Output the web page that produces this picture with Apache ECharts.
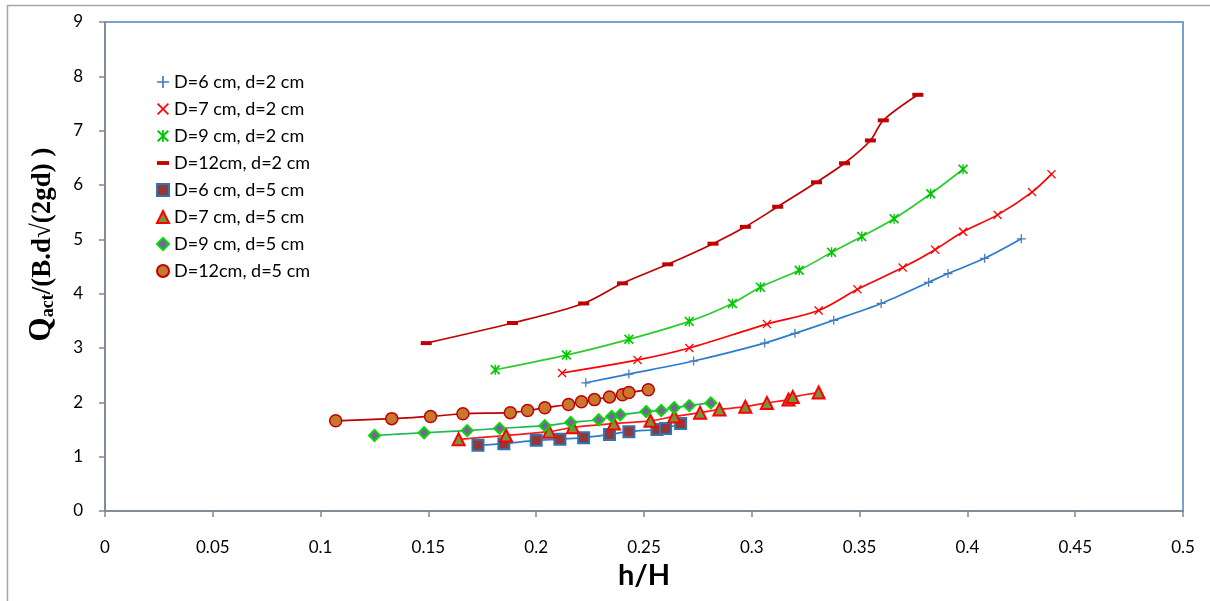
<!DOCTYPE html>
<html>
<head>
<meta charset="utf-8">
<script src="https://cdn.jsdelivr.net/npm/echarts@6/dist/echarts.min.js"></script>
<style>
  html, body { margin: 0; padding: 0; background: #fff; }
  #chart { width: 1210px; height: 601px; }
</style>
</head>
<body>
<div id="chart"></div>
<script>
// h/H (x) and Qact/(B.d sqrt(2gd)) (y), one pair of arrays per test
let hH_D6_d2 = [0.223, 0.243, 0.273, 0.306, 0.320, 0.338, 0.360, 0.382, 0.391, 0.408, 0.425];
let q_D6_d2 = [2.36, 2.52, 2.76, 3.09, 3.27, 3.51, 3.82, 4.21, 4.37, 4.65, 5.01];

let hH_D7_d2 = [0.212, 0.247, 0.271, 0.307, 0.331, 0.349, 0.370, 0.385, 0.398, 0.414, 0.430, 0.439];
let q_D7_d2 = [2.54, 2.78, 3.00, 3.44, 3.69, 4.08, 4.48, 4.81, 5.14, 5.45, 5.87, 6.20];

let hH_D9_d2 = [0.181, 0.214, 0.243, 0.271, 0.291, 0.304, 0.322, 0.337, 0.351, 0.366, 0.383, 0.398];
let q_D9_d2 = [2.60, 2.87, 3.16, 3.49, 3.82, 4.12, 4.43, 4.76, 5.05, 5.38, 5.84, 6.29];

let hH_D12_d2 = [0.149, 0.189, 0.222, 0.240, 0.261, 0.282, 0.297, 0.312, 0.330, 0.343, 0.355, 0.361, 0.377];
let q_D12_d2 = [3.09, 3.46, 3.82, 4.19, 4.54, 4.92, 5.23, 5.60, 6.05, 6.40, 6.82, 7.19, 7.66];

let hH_D6_d5 = [0.173, 0.185, 0.200, 0.211, 0.222, 0.234, 0.243, 0.256, 0.260, 0.267];
let q_D6_d5 = [1.21, 1.24, 1.30, 1.32, 1.35, 1.41, 1.46, 1.50, 1.52, 1.61];

let hH_D7_d5 = [0.164, 0.186, 0.206, 0.217, 0.236, 0.253, 0.264, 0.276, 0.285, 0.297, 0.307, 0.317, 0.319, 0.331];
let q_D7_d5 = [1.32, 1.39, 1.46, 1.54, 1.61, 1.66, 1.74, 1.81, 1.87, 1.92, 1.99, 2.05, 2.10, 2.18];

let hH_D9_d5 = [0.125, 0.148, 0.168, 0.183, 0.204, 0.216, 0.229, 0.235, 0.239, 0.251, 0.258, 0.264, 0.271, 0.281];
let q_D9_d5 = [1.39, 1.44, 1.48, 1.52, 1.57, 1.63, 1.68, 1.74, 1.77, 1.83, 1.85, 1.90, 1.94, 1.99];

let hH_D12_d5 = [0.107, 0.133, 0.151, 0.166, 0.188, 0.196, 0.204, 0.215, 0.221, 0.227, 0.234, 0.240, 0.243, 0.252];
let q_D12_d5 = [1.66, 1.70, 1.74, 1.79, 1.81, 1.85, 1.90, 1.96, 2.01, 2.05, 2.10, 2.14, 2.18, 2.23];

let names = [
  'D=6 cm, d=2 cm', 'D=7 cm, d=2 cm', 'D=9 cm, d=2 cm', 'D=12cm, d=2 cm',
  'D=6 cm, d=5 cm', 'D=7 cm, d=5 cm', 'D=9 cm, d=5 cm', 'D=12cm, d=5 cm'
];

// marker shapes
let plusPath = 'path://M4.3,0H5.7V4.3H10V5.7H5.7V10H4.3V5.7H0V4.3H4.3Z';
let crossPath = 'path://M0,1L1,0L5,4L9,0L10,1L6,5L10,9L9,10L5,6L1,10L0,9L4,5Z';
let starPath = 'path://M0,1.2L1.2,0L5,3.8L8.8,0L10,1.2L6.2,5L10,8.8L8.8,10L5,6.2L1.2,10L0,8.8L3.8,5Z M4.3,0H5.7V10H4.3Z';
let dashPath = 'path://M0,0H10V3.2H0Z';

let pairs = function (xs, ys) {
  return xs.map(function (x, i) { return [x, ys[i]]; });
};

let makeSeries = function (name, xs, ys, lineColor, symbol, size, itemStyle) {
  return {
    name: name,
    type: 'line',
    smooth: 0.3,
    symbol: symbol,
    symbolSize: size,
    showSymbol: true,
    z: 3,
    lineStyle: { color: lineColor, width: 1.7 },
    itemStyle: itemStyle,
    emphasis: { disabled: true },
    data: pairs(xs, ys)
  };
};

let series = [
  makeSeries(names[0], hH_D6_d2, q_D6_d2, '#2a7ccf', plusPath, 9, { color: '#4a7ab8' }),
  makeSeries(names[1], hH_D7_d2, q_D7_d2, '#ff0000', crossPath, 9, { color: '#ff0000' }),
  makeSeries(names[2], hH_D9_d2, q_D9_d2, '#2ccc2c', starPath, 10, { color: '#00c800' }),
  makeSeries(names[3], hH_D12_d2, q_D12_d2, '#c00000', dashPath, [11, 4], { color: '#c00000' }),
  makeSeries(names[4], hH_D6_d5, q_D6_d5, '#2a7ccf', 'rect', 11,
    { color: '#953735', borderColor: '#2e75b6', borderWidth: 2 }),
  makeSeries(names[5], hH_D7_d5, q_D7_d5, '#ff1a1a', 'triangle', 12,
    { color: '#77933c', borderColor: '#ff0000', borderWidth: 2 }),
  makeSeries(names[6], hH_D9_d5, q_D9_d5, '#1fb85a', 'diamond', 11,
    { color: '#7f5fa0', borderColor: '#00dd00', borderWidth: 2 }),
  makeSeries(names[7], hH_D12_d5, q_D12_d5, '#c00000', 'circle', 12,
    { color: '#c8782e', borderColor: '#c00000', borderWidth: 1.5 })
];

let legendIcons = [plusPath, crossPath, starPath, dashPath, 'rect', 'triangle', 'diamond', 'circle'];

let axisGrey = '#868686';

let option = {
  animation: false,
  backgroundColor: '#fff',
  textStyle: { fontFamily: 'Lato, "Open Sans", sans-serif' },
  graphic: [{
    type: 'rect',
    shape: { x: 7.5, y: 5.5, width: 1230, height: 620 },
    style: { fill: 'none', stroke: '#a6a6a6', lineWidth: 1.5 },
    silent: true
  }],
  grid: {
    left: 105,
    right: 27,
    top: 22,
    bottom: 90,
    show: true,
    borderColor: '#4f81bd',
    borderWidth: 1.5
  },
  legend: {
    orient: 'vertical',
    left: 151,
    top: 67,
    itemWidth: 12,
    itemHeight: 12,
    itemGap: 7,
    textStyle: { fontSize: 18, color: '#000', lineHeight: 20, fontFamily: 'Lato' },
    data: names.map(function (n, i) { return { name: n, icon: legendIcons[i] }; })
  },
  xAxis: {
    type: 'value',
    min: 0,
    max: 0.5,
    interval: 0.05,
    name: 'h/H',
    nameLocation: 'middle',
    nameGap: 50,
    nameTextStyle: { fontSize: 29, fontWeight: 'bold', color: '#000', fontFamily: 'Lato' },
    axisLine: { show: true, lineStyle: { color: axisGrey, width: 1.5 } },
    axisTick: { show: true, length: 6, lineStyle: { color: axisGrey, width: 1.5 } },
    axisLabel: { margin: 28, fontSize: 17, color: '#000' },
    splitLine: { show: false }
  },
  yAxis: {
    type: 'value',
    min: 0,
    max: 9,
    interval: 1,
    name: '{q|Q}{s|act}{t|/(B.d√(2gd) )}',
    nameLocation: 'middle',
    nameRotate: 90,
    nameGap: 48,
    nameTextStyle: {
      color: '#000',
      padding: [0, 0, 0, 44],
      rich: {
        q: { fontSize: 31, fontWeight: 'bold', fontFamily: '"Liberation Serif", serif', color: '#000', verticalAlign: 'bottom' },
        s: { fontSize: 18, fontWeight: 'bold', fontFamily: '"Liberation Serif", serif', color: '#000', verticalAlign: 'bottom', padding: [12, 0, 0, 0] },
        t: { fontSize: 27, fontWeight: 'bold', fontFamily: '"Liberation Serif", serif', color: '#000', verticalAlign: 'bottom' }
      }
    },
    axisLine: { show: true, lineStyle: { color: axisGrey, width: 1.5 } },
    axisTick: { show: true, length: 6, lineStyle: { color: axisGrey, width: 1.5 } },
    axisLabel: { margin: 22, fontSize: 17, color: '#000' },
    splitLine: { show: false }
  },
  series: series
};

let myChart = echarts.init(document.getElementById('chart'));
myChart.setOption(option);
</script>
</body>
</html>
